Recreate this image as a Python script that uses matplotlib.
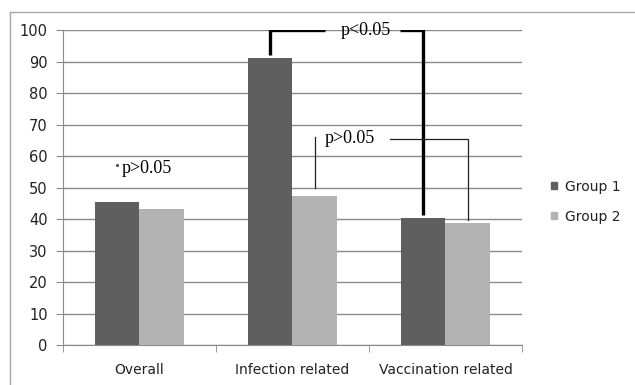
import matplotlib.pyplot as plt
from matplotlib.lines import Line2D
from matplotlib.patches import Patch

categories = ['Overall', 'Infection related', 'Vaccination related']
group1 = [45.3, 91, 40.2]
group2 = [43.2, 47.4, 38.6]
series_names = ['Group 1', 'Group 2']
yticks = [0, 10, 20, 30, 40, 50, 60, 70, 80, 90, 100]

c1 = '#5f5f5f'
c2 = '#b3b3b3'
grid_c = '#8a8a8a'
serif = ['Liberation Serif', 'DejaVu Serif']

fig = plt.figure(figsize=(6.35, 3.85), dpi=100)
ax = fig.add_axes([0.0992, 0.1039, 0.7228, 0.818])

# outer chart frame (only top and left edges visible)
fig.add_artist(Line2D([10 / 635, 10 / 635], [0, 1 - 12 / 385], transform=fig.transFigure,
                      color='#a6a6a6', lw=1))
fig.add_artist(Line2D([10 / 635, 1], [1 - 12 / 385, 1 - 12 / 385], transform=fig.transFigure,
                      color='#a6a6a6', lw=1))

w = 0.288
x = list(range(len(categories)))
x1 = [i - w / 2 for i in x]
x2 = [i + w / 2 for i in x]
ax.bar(x1, group1, width=w, color=c1, zorder=3)
ax.bar(x2, group2, width=w, color=c2, zorder=3)

ax.set_xlim(-0.5, 2.5)
ax.set_ylim(0, 100)
ax.set_yticks(yticks)
ax.yaxis.grid(True, color=grid_c, lw=1, zorder=0)
ax.set_xticks(x)
ax.set_xticklabels(categories, fontsize=10, color='#222222')
ax.set_xticks([-0.5, 0.5, 1.5, 2.5], minor=True)
ax.tick_params(axis='x', which='major', length=0, pad=13)
ax.tick_params(axis='x', which='minor', length=5, color=grid_c, direction='out')
ax.tick_params(axis='y', length=5, color=grid_c, labelsize=10.5, labelcolor='#222222', pad=6)
for s in ['top', 'right']:
    ax.spines[s].set_visible(False)
for s in ['left', 'bottom']:
    ax.spines[s].set_color(grid_c)

# thick bracket: Infection G1 vs Vaccination G1
ax.plot([x1[1], x1[1], 1.21], [group1[1] + 1, 100, 100], color='black', lw=2.4,
        solid_capstyle='butt', solid_joinstyle='miter', zorder=5)
ax.plot([1.70, x1[2], x1[2]], [100, 100, group1[2] + 1], color='black', lw=2.4,
        solid_capstyle='butt', solid_joinstyle='miter', zorder=5)
ax.text(1.48, 100, 'p<0.05', fontsize=13, family=serif, ha='center', va='center', zorder=6)

# thin bracket: Infection G2 vs Vaccination G2
ax.plot([x2[1], x2[1]], [group2[1] + 2.5, 66], color='#222222', lw=0.9, zorder=5)
ax.plot([1.64, x2[2], x2[2]], [65.4, 65.4, group2[2] + 1], color='#222222', lw=0.9, zorder=5)
ax.text(1.21, 65.6, 'p>0.05', fontsize=13, family=serif, ha='left', va='center', zorder=6)

ax.plot([-0.146], [57.3], marker='o', ms=1.3, color='#555555', zorder=6)
ax.text(-0.114, 56, 'p>0.05', fontsize=13, family=serif, ha='left', va='center', zorder=6)

handles = [Patch(color=c1), Patch(color=c2)]
fig.legend(handles, series_names, loc='center left', bbox_to_anchor=(0.8677, 0.476),
           frameon=False, fontsize=10, handlelength=0.43, handleheight=0.43,
           handletextpad=0.58, labelspacing=1.16, labelcolor='#222222',
           borderpad=0, borderaxespad=0)

fig.savefig('out.png', dpi=100)
